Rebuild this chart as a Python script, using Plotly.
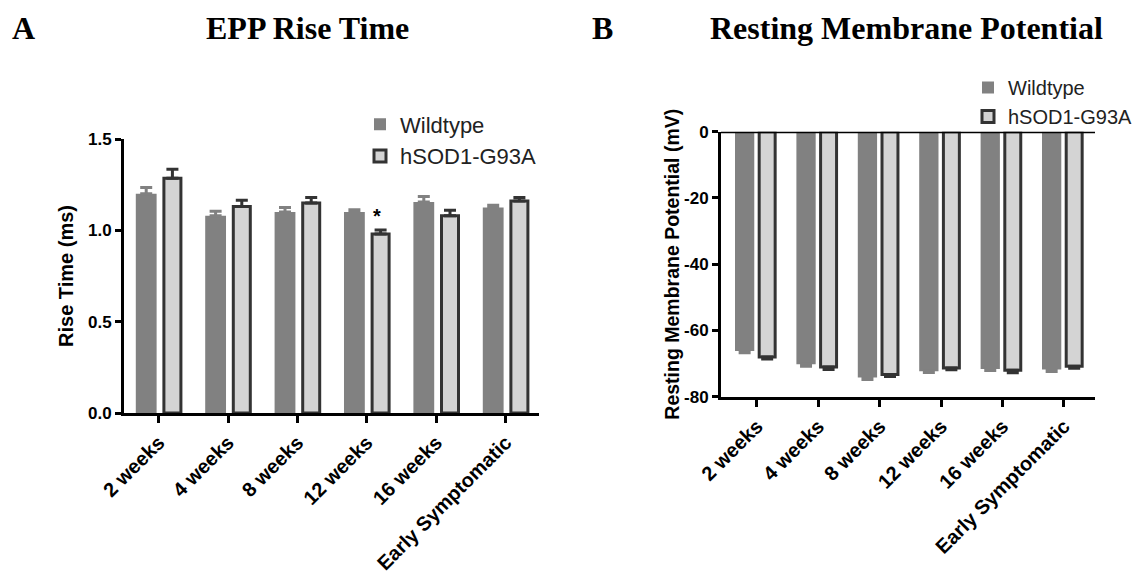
import plotly.graph_objects as go

categories = ["2 weeks", "4 weeks", "8 weeks", "12 weeks", "16 weeks", "Early Symptomatic"]

# Panel A: EPP rise time (ms)
rise_wt = [1.20, 1.08, 1.10, 1.10, 1.155, 1.125]
rise_wt_err = [0.035, 0.025, 0.025, 0.012, 0.03, 0.012]
rise_sod = [1.285, 1.13, 1.15, 0.98, 1.08, 1.16]
rise_sod_err = [0.05, 0.035, 0.03, 0.022, 0.03, 0.02]

# Panel B: resting membrane potential (mV)
rmp_wt = [-66.2, -70.2, -74.2, -72.3, -71.6, -71.8]
rmp_wt_err = [0.5, 0.6, 0.6, 0.4, 0.5, 0.6]
rmp_sod = [-68.0, -71.0, -73.3, -71.3, -72.0, -70.8]
rmp_sod_err = [0.6, 0.8, 0.6, 0.6, 0.8, 0.6]

rise_ticks = [0.0, 0.5, 1.0, 1.5]
rmp_ticks = [0, -20, -40, -60, -80]

WT_COL = "#818181"
SOD_FILL = "#d4d4d4"
SOD_LINE = "#333333"
W, H = 1132, 575

SANS = "Liberation Sans, Arial, sans-serif"
SERIF = "Liberation Serif, Times New Roman, serif"

fig = go.Figure()

# Left panel bars
fig.add_trace(go.Bar(
    x=categories, y=rise_wt, name="Wildtype", xaxis="x", yaxis="y",
    marker=dict(color=WT_COL, line=dict(width=0)),
    width=0.30, offset=-0.33,
    error_y=dict(type="data", symmetric=False, array=rise_wt_err,
                 arrayminus=[0] * len(rise_wt_err), color=WT_COL, thickness=3, width=6),
    legend="legend", showlegend=True,
))
fig.add_trace(go.Bar(
    x=categories, y=rise_sod, name="hSOD1-G93A", xaxis="x", yaxis="y",
    marker=dict(color=SOD_FILL, line=dict(width=3, color=SOD_LINE)),
    width=0.245, offset=0.075,
    error_y=dict(type="data", symmetric=False, array=rise_sod_err,
                 arrayminus=[0] * len(rise_sod_err), color=SOD_LINE, thickness=3, width=6),
    legend="legend", showlegend=True,
))

# Right panel bars
fig.add_trace(go.Bar(
    x=categories, y=rmp_wt, name="Wildtype", xaxis="x2", yaxis="y2",
    marker=dict(color=WT_COL, line=dict(width=0)),
    width=0.314, offset=-0.358,
    error_y=dict(type="data", symmetric=False, arrayminus=rmp_wt_err,
                 array=[0] * len(rmp_wt_err), color=WT_COL, thickness=3, width=6),
    legend="legend2", showlegend=True,
))
fig.add_trace(go.Bar(
    x=categories, y=rmp_sod, name="hSOD1-G93A", xaxis="x2", yaxis="y2",
    marker=dict(color=SOD_FILL, line=dict(width=3, color=SOD_LINE)),
    width=0.26, offset=0.036,
    error_y=dict(type="data", symmetric=False, arrayminus=rmp_sod_err,
                 array=[0] * len(rmp_sod_err), color=SOD_LINE, thickness=3, width=6),
    legend="legend2", showlegend=True,
))

xtickfont = dict(family=SANS, size=20, color="black", weight="bold")
ytickfont = dict(family=SANS, size=17, color="black", weight="bold")

common_x = dict(type="category", showline=True, linecolor="black", linewidth=3,
                ticks="outside", ticklen=7, tickwidth=3, tickcolor="black",
                tickangle=-45, tickfont=xtickfont, showgrid=False, zeroline=False,
                fixedrange=True, automargin=False)
common_y = dict(showline=True, linecolor="black", linewidth=3,
                ticks="outside", ticklen=6, tickwidth=3, tickcolor="black",
                tickfont=ytickfont, showgrid=False, zeroline=False, fixedrange=True,
                automargin=False)


def head(text, xpx, ypx=28):
    return dict(text=f"<b>{text}</b>", x=xpx / W, y=1 - ypx / H, xref="paper", yref="paper",
                xanchor="center", yanchor="middle", showarrow=False,
                font=dict(family=SERIF, size=32, color="black"))


fig.update_layout(
    width=W, height=H, autosize=False,
    margin=dict(l=0, r=0, t=0, b=0, autoexpand=False),
    paper_bgcolor="white", plot_bgcolor="white",
    barmode="overlay",
    xaxis=dict(domain=[124 / W, 539 / W], range=[-0.5, 5.48], anchor="y", **common_x),
    yaxis=dict(domain=[1 - 413 / H, 1 - 139 / H], range=[0, 1.5], anchor="x",
               tickvals=rise_ticks, ticktext=[f"{v:.1f}" for v in rise_ticks],
               title=dict(text="Rise Time (ms)", standoff=9,
                          font=dict(family=SANS, size=20, color="black", weight="bold")),
               **common_y),
    xaxis2=dict(domain=[721 / W, 1095 / W], range=[-0.586, 5.505], anchor="y2", **common_x),
    yaxis2=dict(domain=[1 - 396.7 / H, 1 - 131.7 / H], range=[-80, 0], anchor="x2",
                tickvals=rmp_ticks, ticktext=[str(v) for v in rmp_ticks],
                title=dict(text="Resting Membrane Potential (mV)", standoff=0,
                           font=dict(family=SANS, size=19.5, color="black", weight="bold")),
                **common_y),
    legend=dict(x=360 / W, y=1 - 103.5 / H, xanchor="left", yanchor="top",
                bgcolor="rgba(0,0,0,0)", font=dict(family=SANS, size=22, color="#222"),
                traceorder="normal"),
    legend2=dict(x=968 / W, y=1 - 68 / H, xanchor="left", yanchor="top",
                 bgcolor="rgba(0,0,0,0)", font=dict(family=SANS, size=20, color="#222"),
                 traceorder="normal"),
    shapes=[dict(type="line", xref="x2 domain", yref="y2", x0=0, x1=1, y0=0, y1=0,
                 line=dict(color="black", width=3))],
    annotations=[
        head("A", 23),
        head("EPP Rise Time", 307),
        head("B", 602),
        head("Resting Membrane Potential", 906),
        dict(text="<b>*</b>", x="12 weeks", y=rise_sod[3] + rise_sod_err[3], xref="x", yref="y",
             xshift=10, yshift=14, showarrow=False,
             font=dict(family=SANS, size=20, color="black")),
    ],
)

fig.write_html("out.html", config={"displayModeBar": False},
               post_script="document.body.style.margin='0px';document.body.style.overflow='hidden';")
